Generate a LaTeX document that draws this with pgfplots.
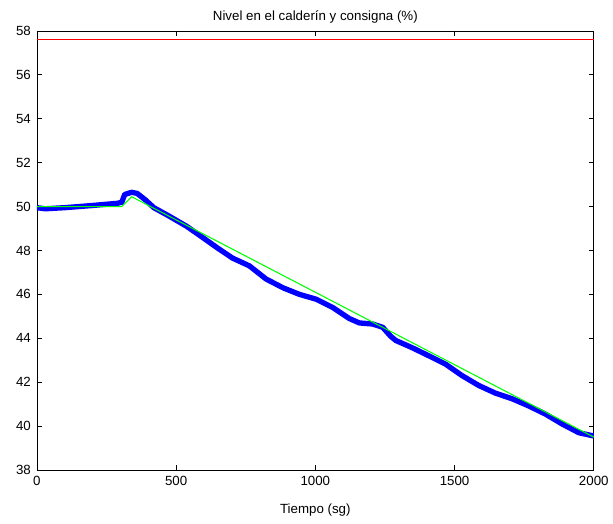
\documentclass[border=0pt]{standalone}
\usepackage{pgfplots}
\pgfplotsset{compat=1.18}
\usepackage{fontspec}
\setmainfont{Liberation Sans}
\begin{document}
\begin{tikzpicture}
\path (-27.75pt,-40.5pt) rectangle (432pt,353.25pt);
\begin{axis}[
  at={(0,0)}, anchor=south west,
  scale only axis, width=418.5pt, height=330pt,
  xmin=0, xmax=2000, ymin=38, ymax=58,
  xtick={0,500,1000,1500,2000}, ytick={38,40,...,58},
  tick align=inside, major tick length=3.5pt,
  xtick pos=both, ytick pos=both,
  axis line style={line width=0.6pt},
  every tick/.style={black, line width=0.6pt},
  /pgf/number format/assume math mode=true,
  /pgf/number format/1000 sep={},
  tick label style={font=\fontsize{10}{12}\selectfont},
  xticklabel style={yshift=-1pt},
  yticklabel style={xshift=-1pt},
  title={Nivel en el calderín y consigna (\%)},
  title style={font=\fontsize{10}{12}\selectfont, yshift=-3.5pt},
  xlabel={Tiempo (sg)},
  xlabel style={font=\fontsize{10}{12}\selectfont, yshift=-7pt},
  clip=true,
]
\addplot[red, line width=1.1pt] coordinates {(0,57.6) (2000,57.6)};
\addplot[blue, line width=4pt, line join=round] coordinates {
(0,49.95) (30,49.9) (100,49.95) (200,50.05) (290,50.15) (305,50.2)
(315,50.55) (340,50.65) (360,50.6) (390,50.3) (420,49.95) (470,49.6)
(538,49.1) (600,48.55) (650,48.1) (703,47.65) (763,47.3) (823,46.7)
(884,46.3) (943,46.0) (1003,45.78) (1063,45.4) (1122,44.9) (1158,44.7)
(1206,44.65) (1242,44.5) (1270,44.1) (1289,43.9) (1348,43.57) (1408,43.2) (1468,42.82)
(1527,42.3) (1587,41.85) (1647,41.5) (1706,41.25) (1766,40.92) (1826,40.55)
(1886,40.1) (1946,39.7) (2000,39.55)};
\addplot[green, line width=0.8pt] coordinates {
(0,50) (305,50) (340,50.45) (2000,39.5)};
\end{axis}
\end{tikzpicture}
\end{document}
